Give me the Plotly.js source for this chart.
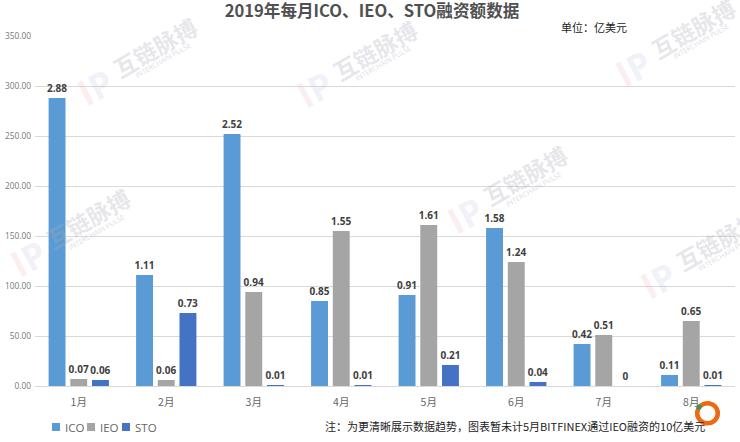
<!DOCTYPE html>
<html><head><meta charset="utf-8">
<script src="https://cdn.plot.ly/plotly-3.0.0.min.js"></script>
<style>html,body{margin:0;padding:0;background:#fff}</style></head>
<body><div id="c" style="width:740px;height:442px"></div>
<script>
const months=['1月','2月','3月','4月','5月','6月','7月','8月'];
const ico=[288,111,252,85,91,158,42,11];
const ieo=[7,6,94,155,161,124,51,65];
const sto=[6,73,1,1,21,4,0,1];
const icoLabels=['2.88','1.11','2.52','0.85','0.91','1.58','0.42','0.11'];
const ieoLabels=['0.07','0.06','0.94','1.55','1.61','1.24','0.51','0.65'];
const stoLabels=['0.06','0.73','0.01','0.01','0.21','0.04','0','0.01'];
const yTicks=[0,50,100,150,200,250,300,350];
const yTickLabels=['0.00','50.00','100.00','150.00','200.00','250.00','300.00','350.00'];
const seriesNames=['ICO','IEO','STO'];
const seriesColors=['#5b9bd5','#a5a5a5','#4472c4'];
const watermarkCentres=[[95,87],[315,90],[633,68],[28,258],[465,215],[658,280]];
const F='"Noto Sans CJK SC","Open Sans",sans-serif';
const L='"Open Sans","Noto Sans CJK SC",sans-serif';
const px=x=>(x-35)/700, py=y=>(386-y)/350;
const lab={family:L,size:10,color:'#404040',weight:700};
function tr(i,y,text){return {type:'bar',name:seriesNames[i],x:months,y,text,
 marker:{color:seriesColors[i],line:{color:'rgba(0,0,0,0)',width:7}},
 textposition:'outside',cliponaxis:false,constraintext:'none',textfont:lab,hoverinfo:'skip'};}
const ann=[],shapes=[];
const note=(x,y,text,font,extra)=>ann.push(Object.assign({xref:'paper',yref:'paper',x:px(x),y:py(y),xanchor:'center',yanchor:'middle',showarrow:false,text,font},extra||{}));
watermarkCentres.forEach(([x,y])=>{
 note(x,y,'<b><span style="color:rgba(240,180,190,0.5)">I</span><span style="color:rgba(185,190,225,0.45)">P</span></b>',
  {family:L,size:36,color:'rgba(185,190,225,0.45)'},{textangle:-28});
 note(x+60,y-40,'<b>互链脉搏</b>',{family:F,size:23,color:'rgba(170,170,185,0.3)'},{textangle:-30});
 note(x+68,y-26,'INTERCHAIN PULSE',{family:L,size:7,color:'rgba(170,170,185,0.45)'},{textangle:-30});
});
note(559,27,'单位：亿美元',{family:F,size:11,color:'#222'},{xanchor:'left'});
note(323,426,'注：为更清晰展示数据趋势，图表暂未计5月BITFINEX通过IEO融资的10亿美元',{family:F,size:11,color:'#222'},{xanchor:'left'});
const swatchX=[52,87,122];
seriesNames.forEach((n,i)=>{
 shapes.push({type:'rect',xref:'paper',yref:'paper',x0:px(swatchX[i]),x1:px(swatchX[i]+8),y0:py(431),y1:py(423),line:{width:0},fillcolor:seriesColors[i]});
 note(swatchX[i]+11,427,n,{family:L,size:11.5,color:'#666'},{xanchor:'left'});
});
shapes.push({type:'circle',xref:'paper',yref:'paper',x0:px(697.2),x1:px(717.8),y0:py(423.2),y1:py(403.2),line:{color:'#ec6a12',width:4.5},fillcolor:'rgba(255,255,255,0)'});
shapes.push({type:'circle',xref:'paper',yref:'paper',x0:px(696.5),x1:px(701.5),y0:py(409.5),y1:py(404.5),line:{width:0},fillcolor:'#1f9d6a'});
const layout={width:740,height:442,paper_bgcolor:'#fff',plot_bgcolor:'#fff',showlegend:false,
 margin:{l:35,r:5,t:36,b:56},
 title:{text:'<b>2019年每月ICO、IEO、STO融资额数据</b>',x:372/740,xanchor:'center',y:0.975,yanchor:'middle',
  font:{family:F,size:16.6,color:'#505050'}},
 barmode:'group',bargap:0.256,bargroupgap:0.22,
 xaxis:{type:'category',tickfont:{family:F,size:10.5,color:'#666'},ticks:'',showline:true,linecolor:'#d9d9d9',showgrid:false,ticklabelstandoff:6,automargin:false},
 yaxis:{range:[0,350],tickvals:yTicks,ticktext:yTickLabels,tickfont:{family:L,size:8.3,color:'#777'},ticklabelstandoff:3,
  gridcolor:'#d9d9d9',gridwidth:1,zeroline:false,ticks:'',automargin:false},
 annotations:ann,shapes:shapes};
Plotly.newPlot('c',[tr(0,ico,icoLabels),tr(1,ieo,ieoLabels),tr(2,sto,stoLabels)],layout,{displayModeBar:false,staticPlot:true});
</script></body></html>
